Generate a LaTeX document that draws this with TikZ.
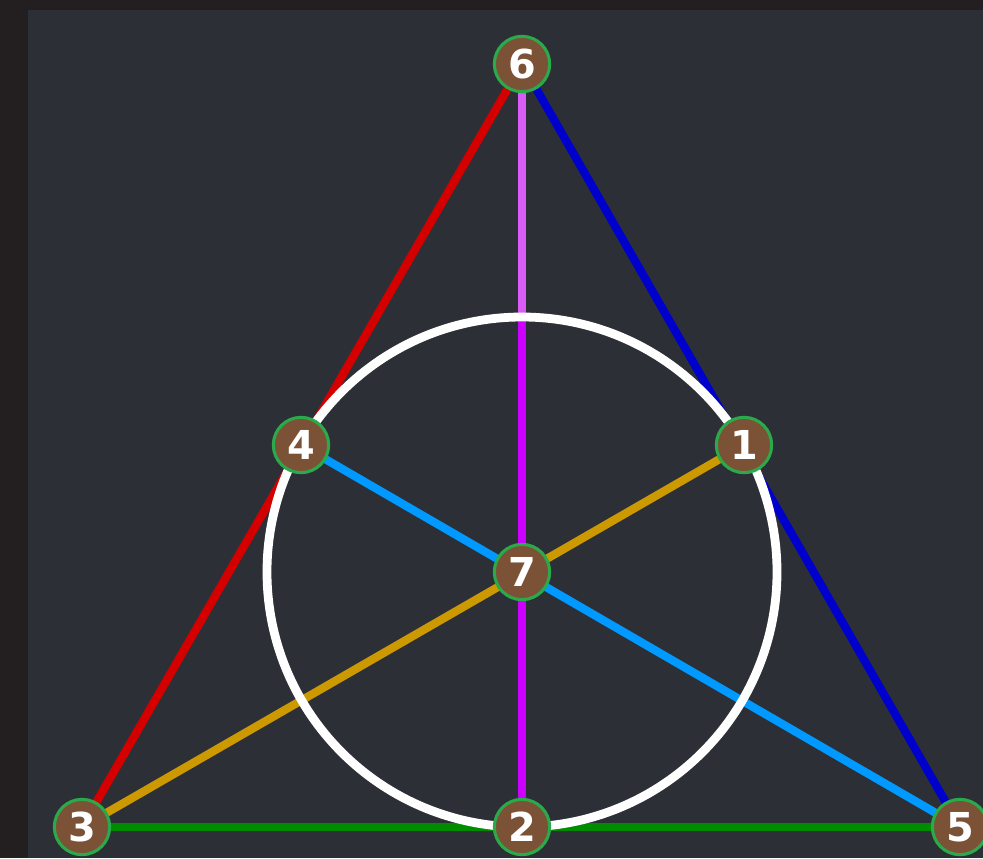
\documentclass[tikz,border=0pt]{standalone}
\usepackage{fontspec}
\setsansfont{DejaVu Sans}
\usepackage{tikz}
\usetikzlibrary{backgrounds}
\usepackage{xcolor}
\definecolor{outerbg}{HTML}{231F20}
\definecolor{panelbg}{HTML}{2C2F36}
\definecolor{ptbrown}{HTML}{7C5237}
\definecolor{ptgreen}{HTML}{2AAA4A}
\definecolor{lnred}{HTML}{D40000}
\definecolor{lnblue}{HTML}{0000CC}
\definecolor{lnviolet}{HTML}{DA5CF7}
\definecolor{lnmagenta}{HTML}{CC00FF}
\definecolor{lngreen}{HTML}{008C00}
\definecolor{lngold}{HTML}{CC9900}
\definecolor{lnsky}{HTML}{0099FF}

\begin{document}
\begin{tikzpicture}[
  x=0.03cm, y=-0.03cm,
  pt/.style={circle, draw=ptgreen, line width=2.6pt, fill=ptbrown,
    minimum size=1.66cm, inner sep=0pt, text=white,
    font=\sffamily\bfseries\fontsize{34}{34}\selectfont},
  fanoline/.style={line width=7pt}
]
  \useasboundingbox (0,0) rectangle (983,858);
  \clip (0,0) rectangle (983,858);

  % Points
  \node[pt] (p6) at (522,64) {6};
  \node[pt] (p4) at (301,445) {4};
  \node[pt] (p1) at (744,445) {1};
  \node[pt] (p7) at (522,572) {7};
  \node[pt] (p3) at (82,827) {3};
  \node[pt] (p2) at (522,827) {2};
  \node[pt] (p5) at (960,827) {5};
  \coordinate (ctop) at (522,317);

  \begin{pgfonlayer}{background}
    \fill[outerbg] (0,0) rectangle (983,858);
    \fill[panelbg] (28,10) rectangle (983,858);

    % Lines
    \draw[fanoline, lnred] (p6.center) -- (p3.center);
    \draw[fanoline, lnblue] (p6.center) -- (p5.center);
    \draw[fanoline, lnviolet] (p6.center) -- (ctop);
    \draw[fanoline, lnmagenta] (ctop) -- (p2.center);
    \draw[fanoline, lngreen] (p3.center) -- (p5.center);
    \draw[fanoline, lngold] (p3.center) -- (p1.center);
    \draw[fanoline, lnsky] (p4.center) -- (p5.center);

    % Circle
    \draw[white, line width=7.5pt] (p7.center) circle (255);
  \end{pgfonlayer}
\end{tikzpicture}
\end{document}
